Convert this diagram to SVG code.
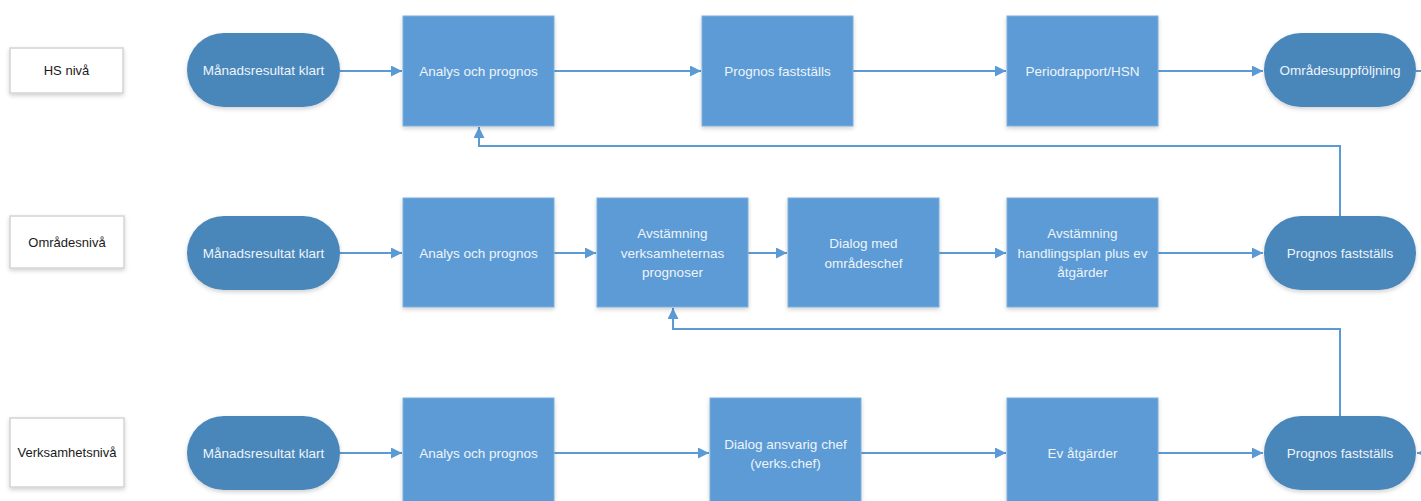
<svg xmlns="http://www.w3.org/2000/svg" width="1421" height="501" viewBox="0 0 1421 501">
<style>
.lbl rect{fill:#ffffff;stroke:#d4d4d4;stroke-width:1.5}
.lbl text{fill:#1a1a1a;font-family:"Liberation Sans",Arial,sans-serif;font-size:13px;text-anchor:middle;dominant-baseline:central}
.term rect{fill:#4a86ba}
.proc rect{fill:#5b9bd5;stroke:#7fb0dc;stroke-width:1}
.term text,.proc text{fill:#eef4fa;font-family:"Liberation Sans",Arial,sans-serif;font-size:13.5px;text-anchor:middle;dominant-baseline:central}
.conn path{fill:none;stroke:#5b9bd5;stroke-width:2}
</style>
<defs>
<filter id="sh" x="-20%" y="-20%" width="140%" height="150%">
<feDropShadow dx="0" dy="2" stdDeviation="2" flood-color="#000" flood-opacity="0.18"/>
</filter>
<marker id="ah" viewBox="0 0 10 10" refX="10" refY="5" markerWidth="5.5" markerHeight="5.5" orient="auto" markerUnits="strokeWidth">
<path d="M0,0 L10,5 L0,10 z" fill="#5b9bd5"/>
</marker>
</defs>
<rect width="1421" height="501" fill="#ffffff"/>

<g class="conn">
<path d="M340,71 H402" marker-end="url(#ah)"/>
<path d="M554,71 H701" marker-end="url(#ah)"/>
<path d="M853,71 H1006" marker-end="url(#ah)"/>
<path d="M1158,71 H1263" marker-end="url(#ah)"/>
<path d="M1416,71 H1421"/>
<path d="M340,253 H402" marker-end="url(#ah)"/>
<path d="M554,253 H596" marker-end="url(#ah)"/>
<path d="M748,253 H787" marker-end="url(#ah)"/>
<path d="M939,253 H1006" marker-end="url(#ah)"/>
<path d="M1158,253 H1263" marker-end="url(#ah)"/>
<path d="M340,453 H402" marker-end="url(#ah)"/>
<path d="M554,453 H709" marker-end="url(#ah)"/>
<path d="M861,453 H1006" marker-end="url(#ah)"/>
<path d="M1158,453 H1263" marker-end="url(#ah)"/>
<path d="M1430,453 H1417" marker-end="url(#ah)"/>
<path d="M1340,216 V146 H479 V127" marker-end="url(#ah)"/>
<path d="M1340,416 V329 H673 V308" marker-end="url(#ah)"/>
</g>

<g id="lbl-hs" class="lbl"><rect x="10" y="48" width="113" height="45" filter="url(#sh)"/><text x="66.5" y="70.5">HS nivå</text></g>
<g id="lbl-omr" class="lbl"><rect x="10" y="216" width="114" height="52" filter="url(#sh)"/><text x="67" y="242">Områdesnivå</text></g>
<g id="lbl-verk" class="lbl"><rect x="10" y="418" width="114" height="69" filter="url(#sh)"/><text x="67" y="452.5">Verksamhetsnivå</text></g>

<g id="r1-start" class="term"><rect x="187" y="33" width="153" height="74" rx="37" filter="url(#sh)"/><text x="263.5" y="70">Månadsresultat klart</text></g>
<g id="r1-analys" class="proc"><rect x="403" y="16" width="151" height="110" filter="url(#sh)"/><text x="478.5" y="71">Analys och prognos</text></g>
<g id="r1-prognos" class="proc"><rect x="702" y="16" width="151" height="110" filter="url(#sh)"/><text x="777.5" y="71">Prognos fastställs</text></g>
<g id="r1-period" class="proc"><rect x="1007" y="16" width="151" height="110" filter="url(#sh)"/><text x="1082.5" y="71">Periodrapport/HSN</text></g>
<g id="r1-end" class="term"><rect x="1264" y="33" width="152" height="74" rx="37" filter="url(#sh)"/><text x="1340" y="70">Områdesuppföljning</text></g>

<g id="r2-start" class="term"><rect x="187" y="216" width="153" height="74" rx="37" filter="url(#sh)"/><text x="263.5" y="253">Månadsresultat klart</text></g>
<g id="r2-analys" class="proc"><rect x="403" y="198" width="151" height="109" filter="url(#sh)"/><text x="478.5" y="253">Analys och prognos</text></g>
<g id="r2-avst" class="proc"><rect x="597" y="198" width="151" height="109" filter="url(#sh)"/><text x="672.5" y="233">Avstämning</text><text x="672.5" y="253">verksamheternas</text><text x="672.5" y="272">prognoser</text></g>
<g id="r2-dialog" class="proc"><rect x="788" y="198" width="151" height="109" filter="url(#sh)"/><text x="863.5" y="243">Dialog med</text><text x="863.5" y="263">områdeschef</text></g>
<g id="r2-handl" class="proc"><rect x="1007" y="198" width="151" height="109" filter="url(#sh)"/><text x="1082.5" y="233">Avstämning</text><text x="1082.5" y="253">handlingsplan plus ev</text><text x="1082.5" y="272">åtgärder</text></g>
<g id="r2-end" class="term"><rect x="1264" y="216" width="152" height="74" rx="37" filter="url(#sh)"/><text x="1340" y="253">Prognos fastställs</text></g>

<g id="r3-start" class="term"><rect x="187" y="416" width="153" height="74" rx="37" filter="url(#sh)"/><text x="263.5" y="453">Månadsresultat klart</text></g>
<g id="r3-analys" class="proc"><rect x="403" y="398" width="151" height="112" filter="url(#sh)"/><text x="478.5" y="453">Analys och prognos</text></g>
<g id="r3-dialog" class="proc"><rect x="710" y="398" width="151" height="112" filter="url(#sh)"/><text x="785.5" y="444">Dialog ansvarig chef</text><text x="785.5" y="463">(verks.chef)</text></g>
<g id="r3-atg" class="proc"><rect x="1007" y="398" width="151" height="112" filter="url(#sh)"/><text x="1082.5" y="453">Ev åtgärder</text></g>
<g id="r3-end" class="term"><rect x="1264" y="416" width="152" height="74" rx="37" filter="url(#sh)"/><text x="1340" y="453">Prognos fastställs</text></g>
</svg>
